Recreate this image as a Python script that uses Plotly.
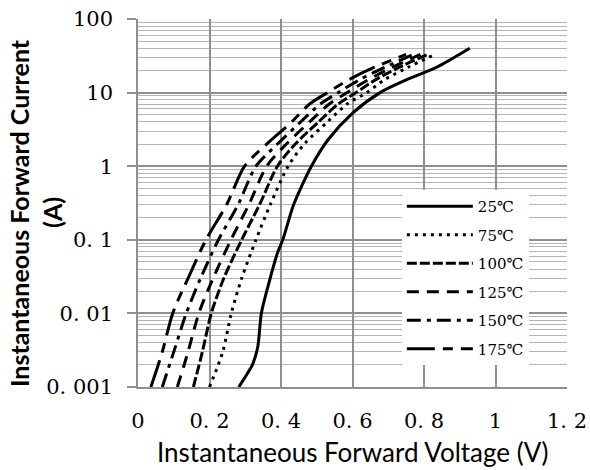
import plotly.graph_objects as go

# ---------------- data ----------------
x_tickvals = [0, 0.2, 0.4, 0.6, 0.8, 1.0, 1.2]
x_ticktext = ["0", "0. 2", "0. 4", "0. 6", "0. 8", "1", "1. 2"]
y_tickvals = [0.001, 0.01, 0.1, 1, 10, 100]
y_ticktext = ["0. 001", "0. 01", "0. 1", "1", "10", "100"]

# 25 C curve
i_25 = [0.001, 0.0015, 0.002, 0.0035, 0.01, 0.028, 0.066, 0.1, 0.28, 0.5, 1, 2.27, 5.3, 10, 15.6, 22.2, 40]
v_25 = [0.282, 0.305, 0.32, 0.335, 0.345, 0.368, 0.39, 0.405, 0.433, 0.455, 0.485, 0.531, 0.601, 0.677, 0.76, 0.836, 0.928]

# hot curves share current levels
i_hot = [0.001, 0.003, 0.01, 0.03, 0.1, 0.3, 1, 2, 4, 7, 10, 15, 22, 33]
v_75 = [0.2, 0.237, 0.261, 0.29, 0.33, 0.37, 0.42, 0.465, 0.53, 0.585, 0.64, 0.69, 0.755, 0.83]
v_100 = [0.155, 0.18, 0.205, 0.24, 0.29, 0.34, 0.39, 0.44, 0.505, 0.56, 0.61, 0.665, 0.73, 0.81]
v_125 = [0.11, 0.14, 0.17, 0.21, 0.26, 0.31, 0.36, 0.415, 0.48, 0.535, 0.585, 0.645, 0.71, 0.79]
v_150 = [0.068, 0.10, 0.135, 0.175, 0.225, 0.28, 0.33, 0.39, 0.455, 0.51, 0.56, 0.62, 0.69, 0.77]
v_175 = [0.036, 0.068, 0.097, 0.14, 0.19, 0.248, 0.298, 0.36, 0.43, 0.48, 0.53, 0.59, 0.66, 0.75]

series_names = ["25℃", "75℃", "100℃", "125℃", "150℃", "175℃"]

# ---------------- figure ----------------
styles = ["solid", "3px,5px", "10px,3px", "12px,8px", "14px,6px,4px,6px", "28px,8px,10px,8px"]
xs = [v_25, v_75, v_100, v_125, v_150, v_175]
ys = [i_25, i_hot, i_hot, i_hot, i_hot, i_hot]

fig = go.Figure()
for k, (name, vx, iy, dash) in enumerate(zip(series_names, xs, ys, styles)):
    fig.add_trace(go.Scatter(
        x=vx, y=iy, mode="lines", name=name, legendgroup=str(k),
        line=dict(color="black", width=3, dash=dash, shape="spline", smoothing=0.8),
    ))

minor_vals = [m * 10 ** e for e in range(-3, 2) for m in range(2, 10)]

fig.update_layout(
    width=590, height=470,
    margin=dict(l=138, r=23, t=19, b=83, autoexpand=False),
    paper_bgcolor="white", plot_bgcolor="white",
    showlegend=True,
    legend=dict(
        x=0.615, y=0.535, xanchor="left", yanchor="top",
        bgcolor="white", borderwidth=0,
        font=dict(family="DejaVu Serif", size=15, color="black"),
        tracegroupgap=6, itemwidth=66,
    ),
    xaxis=dict(
        range=[0, 1.2], tickmode="array", tickvals=x_tickvals, ticktext=x_ticktext,
        showgrid=True, gridcolor="#8f8f8f", gridwidth=1.5,
        showline=True, linecolor="#8f8f8f", linewidth=1.5,
        ticks="", ticklabelstandoff=14, automargin=False,
        tickfont=dict(family="DejaVu Serif", size=21, color="black"),
        zeroline=False,
    ),
    yaxis=dict(
        type="log", range=[-3, 2], tickmode="array", tickvals=y_tickvals, ticktext=y_ticktext,
        showgrid=True, gridcolor="#8f8f8f", gridwidth=1.5,
        showline=True, linecolor="#8f8f8f", linewidth=1.5,
        ticks="outside", ticklen=9, tickcolor="#8f8f8f", tickwidth=1.5,
        ticklabelstandoff=10, automargin=False,
        tickfont=dict(family="DejaVu Serif", size=21, color="black"),
        minor=dict(tickmode="array", tickvals=minor_vals, showgrid=True,
                   gridcolor="#b5b5b5", gridwidth=1),
        zeroline=False,
    ),
    annotations=[
        dict(text="Instantaneous Forward Voltage (V)", xref="paper", yref="paper",
             x=0.5, y=-0.177, xanchor="center", yanchor="middle", showarrow=False,
             font=dict(family="Lato", size=26, color="black")),
        dict(text="<b>Instantaneous Forward Current</b>", xref="paper", yref="paper",
             x=0, y=0.473, xshift=-119, xanchor="center", yanchor="middle",
             textangle=-90, showarrow=False,
             font=dict(family="Lato", size=25, color="black")),
        dict(text="<b>(A)</b>", xref="paper", yref="paper",
             x=0, y=0.473, xshift=-86, xanchor="center", yanchor="middle",
             textangle=-90, showarrow=False,
             font=dict(family="Lato", size=25, color="black")),
    ],
)

fig.write_html("out.html", config={"displayModeBar": False},
               post_script="document.body.style.margin='0';")
